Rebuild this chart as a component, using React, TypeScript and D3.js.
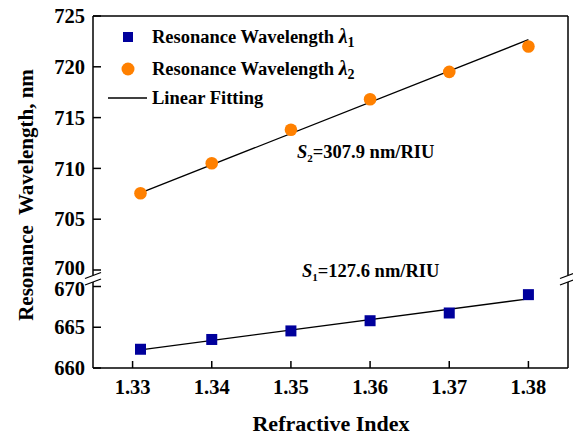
import * as d3 from "d3";
import React from "react";

// refractive index of the test liquids
const refractiveIndex = [1.331, 1.34, 1.35, 1.36, 1.37, 1.38];
// resonance wavelengths (nm)
const lambda1 = [662.3, 663.5, 664.55, 665.8, 666.75, 669.0];
const lambda2 = [707.55, 710.5, 713.8, 716.8, 719.5, 722.0];
// sensitivities (nm/RIU) used for the linear fits
const sensitivities = [127.6, 307.9];

const xTicks = [1.33, 1.34, 1.35, 1.36, 1.37, 1.38];
const yTopTicks = [700, 705, 710, 715, 720, 725];
const yBottomTicks = [660, 665, 670];

const width = 573;
const height = 435;
const font = "Liberation Serif";

const left = 93;
const right = 568;
const top = 16;
const bottom = 368;
const topSegEnd = 270; // y of 700
const botSegStart = 286.5; // y of 670

function fitLine(xs: number[], ys: number[], slope: number) {
  const mx = d3.mean(xs) as number;
  const my = d3.mean(ys) as number;
  const x0 = xs[0];
  const x1 = xs[xs.length - 1];
  return [
    [x0, my + slope * (x0 - mx)],
    [x1, my + slope * (x1 - mx)],
  ];
}

function BreakMarks({ x }: { x: number }) {
  return (
    <g stroke="#000" strokeWidth={1.3}>
      <rect x={x - 3} y={275} width={6} height={7} fill="#fff" stroke="none" />
      <line x1={x - 8} y1={278.5} x2={x + 8} y2={272.5} />
      <line x1={x - 8} y1={285} x2={x + 8} y2={279} />
    </g>
  );
}

function T(props: any) {
  return <text fontFamily={font} fontWeight="bold" {...props} />;
}

export default function App() {
  const x = d3.scaleLinear().domain([1.325, 1.385]).range([left, right]);
  const yTop = d3.scaleLinear().domain([700, 725]).range([topSegEnd, top]);
  const yBot = d3.scaleLinear().domain([660, 670]).range([bottom, botSegStart]);

  const line = (y: d3.ScaleLinear<number, number>) =>
    d3
      .line<number[]>()
      .x((d) => x(d[0]))
      .y((d) => y(d[1]));

  const fit1 = fitLine(refractiveIndex, lambda1, sensitivities[0]);
  const fit2 = fitLine(refractiveIndex, lambda2, sensitivities[1]);

  return (
    <svg
      width={width}
      height={height}
      style={{ position: "absolute", left: 0, top: 0, background: "#fff" }}
    >
      {/* frame */}
      <g stroke="#000" strokeWidth={1.5} fill="none">
        <line x1={left} x2={right} y1={top} y2={top} />
        <line x1={left} x2={right} y1={bottom} y2={bottom} />
        <line x1={left} x2={left} y1={top} y2={bottom} />
        <line x1={right} x2={right} y1={top} y2={bottom} />
      </g>
      <BreakMarks x={left} />
      <BreakMarks x={right} />

      {/* y ticks, top segment */}
      {yTopTicks.map((t) => (
        <g key={"yt" + t}>
          <line x1={left} x2={left + 8} y1={yTop(t)} y2={yTop(t)} stroke="#000" strokeWidth={1.5} />
          <T x={85} y={yTop(t) - (t === 700 ? 2 : 0)} dy="0.35em" textAnchor="end" fontSize={20.5}>
            {t}
          </T>
        </g>
      ))}
      {/* y ticks, bottom segment */}
      {yBottomTicks.map((t) => (
        <g key={"yb" + t}>
          <line x1={left} x2={left + 8} y1={yBot(t)} y2={yBot(t)} stroke="#000" strokeWidth={1.5} />
          <T x={85} y={yBot(t) + (t === 670 ? 2 : 0)} dy="0.35em" textAnchor="end" fontSize={20.5}>
            {t}
          </T>
        </g>
      ))}
      {/* x ticks */}
      {xTicks.map((t) => (
        <g key={"x" + t}>
          <line x1={x(t)} x2={x(t)} y1={bottom} y2={bottom - 7} stroke="#000" strokeWidth={1.5} />
          <T x={x(t)} y={394} textAnchor="middle" fontSize={20.5}>
            {d3.format(".2f")(t)}
          </T>
        </g>
      ))}

      {/* axis titles */}
      <T x={331} y={431} textAnchor="middle" fontSize={22}>
        Refractive Index
      </T>
      <T
        transform="translate(33,195) rotate(-90)"
        textAnchor="middle"
        fontSize={21}
        style={{ whiteSpace: "pre" }}
      >
        {"Resonance  Wavelength, nm"}
      </T>

      {/* fits */}
      <path d={line(yTop)(fit2) ?? ""} stroke="#000" strokeWidth={1.3} fill="none" />
      <path d={line(yBot)(fit1) ?? ""} stroke="#000" strokeWidth={1.3} fill="none" />

      {/* data */}
      {refractiveIndex.map((r, i) => (
        <circle key={"c" + i} cx={x(r)} cy={yTop(lambda2[i])} r={6.3} fill="#ff8000" />
      ))}
      {refractiveIndex.map((r, i) => (
        <rect
          key={"s" + i}
          x={x(r) - 5.5}
          y={yBot(lambda1[i]) - 5.5}
          width={11}
          height={11}
          fill="#00009c"
        />
      ))}

      {/* annotations */}
      <T x={297} y={158} fontSize={18.5}>
        <tspan fontStyle="italic">S</tspan>
        <tspan fontSize={11} dy={4}>2</tspan>
        <tspan dy={-4}>=307.9 nm/RIU</tspan>
      </T>
      <T x={302} y={277} fontSize={18.5}>
        <tspan fontStyle="italic">S</tspan>
        <tspan fontSize={11} dy={4}>1</tspan>
        <tspan dy={-4}>=127.6 nm/RIU</tspan>
      </T>

      {/* legend */}
      <rect x={123} y={32} width={10} height={10} fill="#00009c" />
      <circle cx={128} cy={69} r={6.5} fill="#ff8000" />
      <line x1={108} x2={147} y1={98} y2={98} stroke="#000" strokeWidth={1.5} />
      <T x={152} y={43} fontSize={18.5}>
        Resonance Wavelength <tspan fontStyle="italic" fontSize={20}>λ</tspan>
        <tspan fontSize={14} dy={4}>1</tspan>
      </T>
      <T x={152} y={75} fontSize={18.5}>
        Resonance Wavelength <tspan fontStyle="italic" fontSize={20}>λ</tspan>
        <tspan fontSize={14} dy={4}>2</tspan>
      </T>
      <T x={152} y={104} fontSize={18.5}>
        Linear Fitting
      </T>
    </svg>
  );
}
